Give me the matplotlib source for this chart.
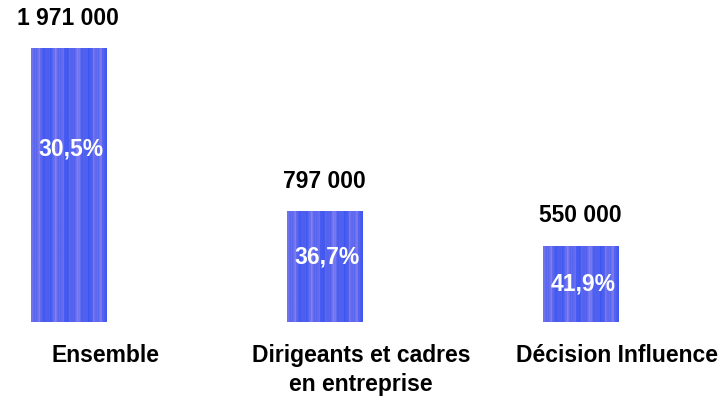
import numpy as np
import matplotlib
matplotlib.use('Agg')
import matplotlib.pyplot as plt
from matplotlib.colors import LinearSegmentedColormap

# Data
categories = ['Ensemble', 'Dirigeants et cadres\nen entreprise', 'Décision Influence']
values = [1971000, 797000, 550000]
value_labels = ['1 971 000', '797 000', '550 000']
pct_labels = ['30,5%', '36,7%', '41,9%']

# where the % sits inside each bar (fraction of bar height)
pct_pos = [0.63, 0.59, 0.50]

plt.rcParams['font.family'] = ['Liberation Sans', 'DejaVu Sans']

fig = plt.figure(figsize=(7.25, 4.08), dpi=100)
ax = fig.add_axes([0, 0, 1, 1])
ax.set_xlim(-0.266, 2.566)
ax.set_ylim(-619000, 2317000)
ax.axis('off')

x = np.arange(len(values))
width = 0.293
bars = ax.bar(x, values, width=width, color='#4f5fee', edgecolor='none', zorder=1)

# streaky texture inside the bars (deterministic stripes)
cols = np.linspace(0, 1, 60)
stripe = (0.45 + 0.2 * np.sin(cols * 23.0) + 0.15 * np.sin(cols * 61.0 + 1.3)
          + 0.1 * np.sin(cols * 137.0 + 0.7))
tex = np.tile(stripe, (40, 1))
cmap = LinearSegmentedColormap.from_list('bar', ['#3d56f2', '#5563ee', '#8580ee'])
for b in bars:
    im = ax.imshow(tex, cmap=cmap, aspect='auto', zorder=2,
                   extent=[b.get_x(), b.get_x() + b.get_width(), 0, b.get_height()])
    im.set_clip_path(b)

for xi, v, vl, pl, pp in zip(x, values, value_labels, pct_labels, pct_pos):
    ax.text(xi, v + 130000, vl, ha='center', va='bottom', fontsize=16.5,
            fontweight='bold', color='black')
    ax.text(xi + 0.01, v * pp, pl, ha='center', va='center', fontsize=16.5,
            fontweight='bold', color='white', zorder=3)

for xi, cat in zip(x, categories):
    ax.text(xi + 0.145, -160000, cat, ha='center', va='top', fontsize=16.5,
            fontweight='bold', color='black', linespacing=1.3)

fig.savefig('out.png', dpi=100)
